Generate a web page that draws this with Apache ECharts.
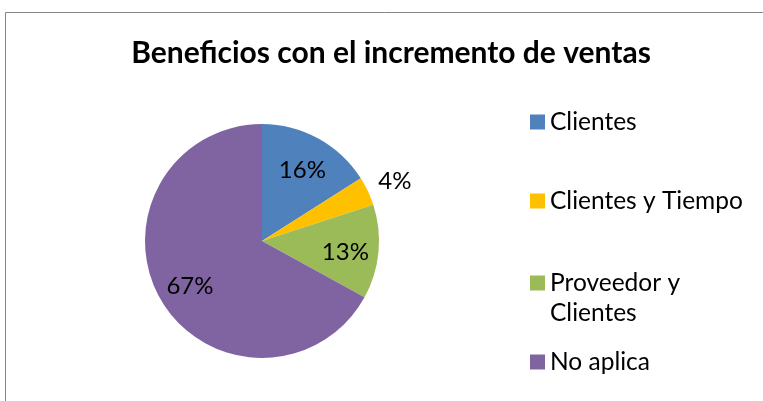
<!DOCTYPE html>
<html>
<head>
<meta charset="utf-8">
<script src="https://cdn.jsdelivr.net/npm/echarts@6/dist/echarts.min.js"></script>
<style>
  html, body { margin: 0; padding: 0; background: #fff; }
  #chart-container { width: 763px; height: 401px; }
</style>
</head>
<body>
<div id="chart-container"></div>
<script>
// chart data
var titleText = 'Beneficios con el incremento de ventas';
var categories = ['Clientes', 'Clientes y Tiempo', 'Proveedor y Clientes', 'No aplica'];
var values = [16, 4, 13, 67];
var colors = ['#4F81BD', '#FFC000', '#9BBB59', '#8064A2'];
var legendTops = [107, 186, 238, 347];

var pieRadius = 117;
var fontName = 'Lato';

// label offsets: push the in-slice labels further out, small slices outside
var total = values.reduce(function (a, b) { return a + b; }, 0);
var offsets = [];
var acc = 0;
values.forEach(function (v) {
  var mid = (acc + v / 2) / total * Math.PI * 2;
  acc += v;
  var want = v / total < 0.05 ? pieRadius * 1.23 : pieRadius * 0.69;
  var extra = want - pieRadius / 2;
  offsets.push([extra * Math.sin(mid), -extra * Math.cos(mid) + 3]);
});

var legends = categories.map(function (name, i) {
  var twoLines = name === 'Proveedor y Clientes';
  return {
    data: [name],
    orient: 'vertical',
    left: 530,
    top: legendTops[i],
    padding: 0,
    icon: 'rect',
    itemWidth: 15,
    itemHeight: 15,
    itemGap: 0,
    selectedMode: false,
    formatter: function (n) {
      // empty first line so the marker sits on "Proveedor y"
      return twoLines ? '\nProveedor y\nClientes' : n;
    },
    textStyle: {
      fontFamily: fontName,
      fontSize: 24.5,
      color: '#000',
      lineHeight: 30
    }
  };
});

var myChart = echarts.init(document.getElementById('chart-container'));
var option = {
  animation: false,
  backgroundColor: '#fff',
  title: {
    text: titleText,
    left: 386,
    textAlign: 'center',
    top: 33,
    textStyle: {
      fontFamily: fontName,
      fontWeight: 'bold',
      fontSize: 30,
      color: '#000'
    }
  },
  legend: legends,
  graphic: [{
    type: 'rect',
    shape: { x: 5.5, y: 12.5, width: 900, height: 600 },
    style: { fill: 'none', stroke: '#868686', lineWidth: 1 },
    silent: true
  }],
  series: [{
    type: 'pie',
    center: [262, 241],
    radius: [0, pieRadius],
    startAngle: 90,
    clockwise: true,
    color: colors,
    label: {
      show: true,
      position: 'inside',
      formatter: '{d}%',
      fontFamily: fontName,
      fontSize: 24,
      color: '#000'
    },
    labelLine: { show: false },
    labelLayout: function (params) {
      var o = offsets[params.dataIndex];
      return { dx: o[0], dy: o[1] };
    },
    emphasis: { disabled: true },
    data: categories.map(function (name, i) {
      return { name: name, value: values[i] };
    })
  }]
};
myChart.setOption(option);
</script>
</body>
</html>
